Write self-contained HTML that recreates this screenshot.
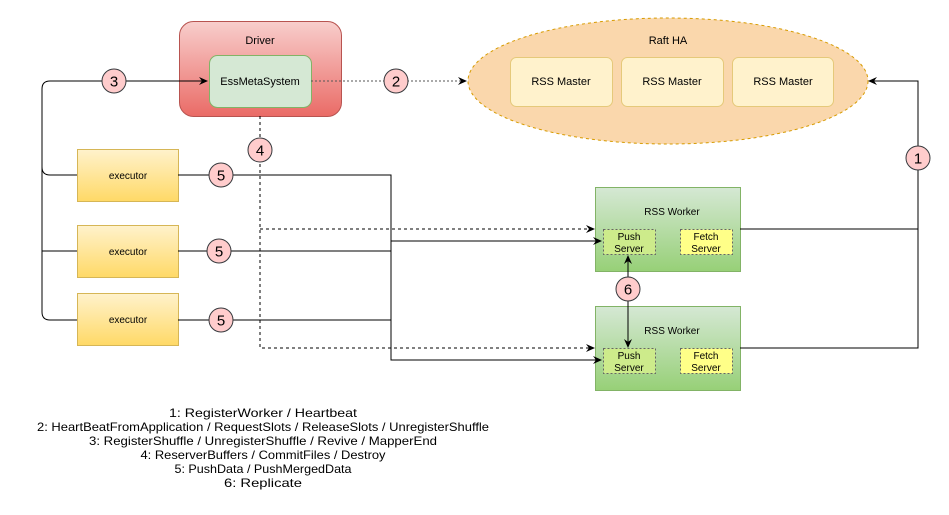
<!DOCTYPE html>
<html><head><meta charset="utf-8"><style>html,body{margin:0;padding:0;background:#fff}svg{display:block}</style></head>
<body>
<svg width="949" height="515" viewBox="0 0 949 515" xmlns="http://www.w3.org/2000/svg" font-family="Liberation Sans, sans-serif">
<defs>
<linearGradient id="red" x1="0" y1="0" x2="0" y2="1"><stop offset="0" stop-color="#f8cecc"/><stop offset="1" stop-color="#ea6b66"/></linearGradient>
<linearGradient id="yel" x1="0" y1="0" x2="0" y2="1"><stop offset="0" stop-color="#fff2cc"/><stop offset="1" stop-color="#ffd966"/></linearGradient>
<linearGradient id="grn" x1="0" y1="0" x2="0" y2="1"><stop offset="0" stop-color="#d5e8d4"/><stop offset="1" stop-color="#97d077"/></linearGradient>
<marker id="a" markerWidth="10" markerHeight="10" refX="8" refY="5" orient="auto" markerUnits="userSpaceOnUse"><path d="M0,1 L9,5 L0,9 L3,5 Z" fill="#000"/></marker>
</defs>
<!-- Driver -->
<rect x="179.5" y="21.5" width="162" height="95" rx="14" fill="url(#red)" stroke="#b85450"/>
<text x="260" y="44" font-size="11" text-anchor="middle">Driver</text>
<rect x="209.5" y="55.5" width="102" height="52" rx="8" fill="#d5e8d4" stroke="#82b366"/>
<text x="260" y="85" font-size="11" text-anchor="middle">EssMetaSystem</text>
<!-- Raft HA -->
<ellipse cx="668" cy="81" rx="200" ry="63" fill="#fad7ac" stroke="#d79b00" stroke-dasharray="3,3"/>
<text x="668" y="44" font-size="11" text-anchor="middle">Raft HA</text>
<g font-size="11" text-anchor="middle">
<rect x="510.5" y="57.5" width="102" height="49" rx="6" fill="#fff2cc" stroke="#e5c97a"/>
<text x="561" y="85">RSS Master</text>
<rect x="621.5" y="57.5" width="102" height="49" rx="6" fill="#fff2cc" stroke="#e5c97a"/>
<text x="672" y="85">RSS Master</text>
<rect x="732.5" y="57.5" width="101" height="49" rx="6" fill="#fff2cc" stroke="#e5c97a"/>
<text x="783" y="85">RSS Master</text>
</g>
<!-- executors -->
<g font-size="10" text-anchor="middle">
<rect x="77.5" y="149.5" width="101" height="52" fill="url(#yel)" stroke="#d6b656"/>
<text x="128" y="179">executor</text>
<rect x="77.5" y="225.5" width="101" height="52" fill="url(#yel)" stroke="#d6b656"/>
<text x="128" y="255">executor</text>
<rect x="77.5" y="293.5" width="101" height="52" fill="url(#yel)" stroke="#d6b656"/>
<text x="128" y="323">executor</text>
</g>
<!-- workers -->
<g font-size="10" text-anchor="middle">
<rect x="595.5" y="187.5" width="145" height="84" fill="url(#grn)" stroke="#82b366"/>
<text x="672" y="215">RSS Worker</text>
<rect x="603.5" y="229.5" width="52" height="25" fill="#cdeb8b" stroke="#666" stroke-dasharray="2,2"/>
<text x="629" y="240">Push</text><text x="629" y="252">Server</text>
<rect x="680.5" y="229.5" width="52" height="25" fill="#ffff88" stroke="#666" stroke-dasharray="2,2"/>
<text x="706" y="240">Fetch</text><text x="706" y="252">Server</text>
<rect x="595.5" y="306.5" width="145" height="84" fill="url(#grn)" stroke="#82b366"/>
<text x="672" y="334">RSS Worker</text>
<rect x="603.5" y="348.5" width="52" height="25" fill="#cdeb8b" stroke="#666" stroke-dasharray="2,2"/>
<text x="629" y="359">Push</text><text x="629" y="371">Server</text>
<rect x="680.5" y="348.5" width="52" height="25" fill="#ffff88" stroke="#666" stroke-dasharray="2,2"/>
<text x="706" y="359">Fetch</text><text x="706" y="371">Server</text>
</g>
<!-- connectors -->
<g fill="none" stroke="#000" stroke-width="1">
<path d="M77,320 H50 Q42,320 42,312 V89 Q42,81 50,81 H207" marker-end="url(#a)"/>
<path d="M77,175 H50 Q42,175 42,167"/>
<path d="M77,251 H42"/>
<path d="M311,81 H466" stroke-dasharray="2,2" stroke="#555" marker-end="url(#a)"/>
<path d="M260,116 V348 H594" stroke-dasharray="3,3" marker-end="url(#a)"/>
<path d="M260,229 H594" stroke-dasharray="3,3" marker-end="url(#a)"/>
<path d="M178,175 H391 V360 H601" marker-end="url(#a)"/>
<path d="M178,320 H391"/>
<path d="M178,251 H391"/>
<path d="M391,241 H601" marker-end="url(#a)"/>
<path d="M740,229 H918"/>
<path d="M740,348 H918 V81 H869" marker-end="url(#a)"/>
<path d="M628,289 V256" marker-end="url(#a)"/>
<path d="M628,289 V347" marker-end="url(#a)"/>
</g>
<!-- number circles -->
<g font-size="15" text-anchor="middle" fill="#000">
<circle cx="114" cy="81" r="12" fill="#ffcccc" stroke="#36393d"/><text x="114" y="86.5">3</text>
<circle cx="396" cy="81" r="12" fill="#ffcccc" stroke="#36393d"/><text x="396" y="86.5">2</text>
<circle cx="260" cy="150" r="12" fill="#ffcccc" stroke="#36393d"/><text x="260" y="155.5">4</text>
<circle cx="221" cy="175" r="12" fill="#ffcccc" stroke="#36393d"/><text x="221" y="180.5">5</text>
<circle cx="219" cy="251" r="12" fill="#ffcccc" stroke="#36393d"/><text x="219" y="256.5">5</text>
<circle cx="221" cy="320" r="12" fill="#ffcccc" stroke="#36393d"/><text x="221" y="325.5">5</text>
<circle cx="628" cy="289" r="12" fill="#ffcccc" stroke="#36393d"/><text x="628" y="294.5">6</text>
<circle cx="918" cy="158" r="12" fill="#ffcccc" stroke="#36393d"/><text x="918" y="163.5">1</text>
</g>
<!-- legend -->
<g font-size="12" text-anchor="middle">
<text x="263" y="417" textLength="188" lengthAdjust="spacingAndGlyphs">1: RegisterWorker / Heartbeat</text>
<text x="263" y="431" textLength="452" lengthAdjust="spacingAndGlyphs">2:  HeartBeatFromApplication / RequestSlots / ReleaseSlots / UnregisterShuffle</text>
<text x="263" y="445" textLength="348" lengthAdjust="spacingAndGlyphs">3: RegisterShuffle / UnregisterShuffle / Revive / MapperEnd</text>
<text x="263" y="459" textLength="245" lengthAdjust="spacingAndGlyphs">4: ReserverBuffers / CommitFiles / Destroy</text>
<text x="263" y="473" textLength="177" lengthAdjust="spacingAndGlyphs">5: PushData / PushMergedData</text>
<text x="263" y="487" textLength="78" lengthAdjust="spacingAndGlyphs">6: Replicate</text>
</g>
</svg>
</body></html>
